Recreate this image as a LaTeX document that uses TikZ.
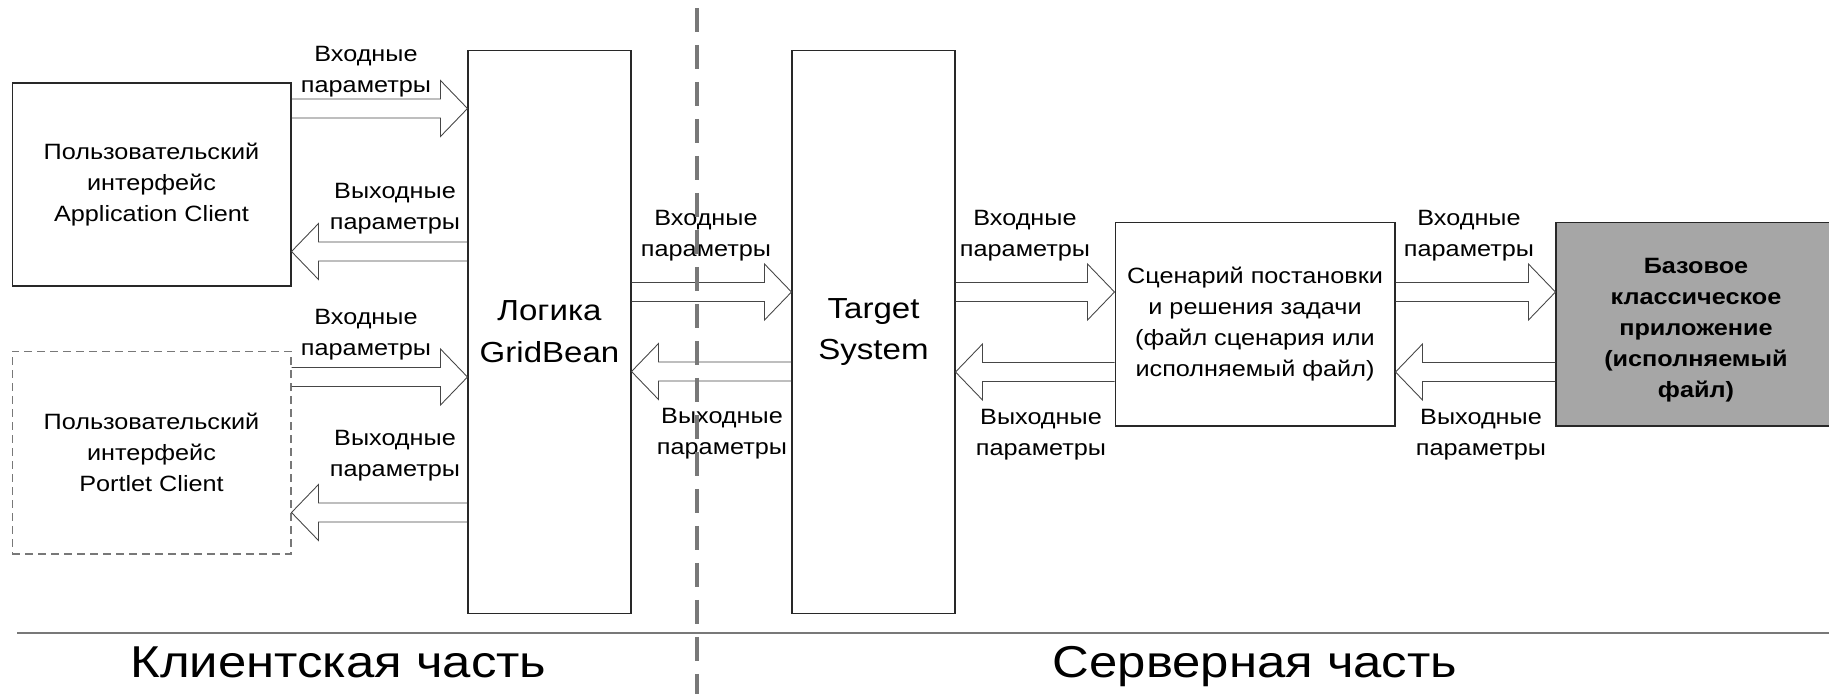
\documentclass[tikz,border=0pt]{standalone}
\usepackage{fontspec}
\setmainfont[FakeStretch=1.14]{Liberation Sans}
\usepackage{tikz}
\usetikzlibrary{positioning, calc}
\definecolor{framegray}{RGB}{40,40,40}
\definecolor{arrowgray}{RGB}{70,70,70}
\definecolor{linegray}{RGB}{120,120,120}
\definecolor{basegray}{RGB}{166,166,166}

\newcommand{\lblfont}{\fontsize{12.6}{17.6}\selectfont}
\newcommand{\corefont}{\fontsize{16.5}{23.8}\selectfont}
\newcommand{\partfont}{\fontsize{25.4}{29}\selectfont}

% hollow block arrows: tail node, tip node, centre line
\newcommand{\rightblock}[3]{%
  \draw[blockarr]
    ($(#1.east |- 0,#3)+(0,-9.5)$) -- ($(#2.west |- 0,#3)+(-27,-9.5)$)
    -- ++(0,-18.5) -- (#2.west |- 0,#3) -- ($(#2.west |- 0,#3)+(-27,28)$)
    -- ++(0,-18.5) -- ($(#1.east |- 0,#3)+(0,9.5)$);}
\newcommand{\leftblock}[3]{%
  \draw[blockarr]
    ($(#1.west |- 0,#3)+(0,-9.5)$) -- ($(#2.east |- 0,#3)+(27,-9.5)$)
    -- ++(0,-18.5) -- (#2.east |- 0,#3) -- ($(#2.east |- 0,#3)+(27,28)$)
    -- ++(0,-18.5) -- ($(#1.west |- 0,#3)+(0,9.5)$);}

\begin{document}
\begin{tikzpicture}[
    x=0.02cm, y=-0.02cm,
    client/.style  = {rectangle, draw=framegray, line width=0.6pt,
                      minimum width=5.58cm, minimum height=4.06cm,
                      font=\lblfont, align=center},
    webui/.style   = {client, draw=linegray, dash pattern=on 0.16cm off 0.1cm},
    core/.style    = {rectangle, draw=framegray, line width=0.6pt,
                      minimum width=3.26cm, minimum height=11.28cm,
                      font=\corefont, align=center},
    stage/.style   = {rectangle, draw=framegray, line width=0.6pt,
                      minimum width=5.6cm, minimum height=4.08cm,
                      font=\lblfont, align=center},
    blockarr/.style = {draw=arrowgray, line width=0.5pt},
    lbl/.style     = {inner sep=0pt, font=\lblfont, align=center},
    divider/.style = {draw=linegray, line width=1.8pt,
                      dash pattern=on 0.48cm off 0.26cm},
    rule/.style    = {draw=linegray, line width=1.1pt},
  ]
  \useasboundingbox (0,0) rectangle (1829,694);

  %% Client side
  \node[client] (appui) at (151.5,184.5) {Пользовательский\\интерфейс\\Application Client};
  \node[webui, below=1.28cm of appui] (portletui) {Пользовательский\\интерфейс\\Portlet Client};
  \node[core] (logic) at (549.5,332) {Логика\\GridBean};

  %% Server side
  \node[core, right=3.2cm of logic] (target) {Target\\System};
  \node[stage] (scenario) at (1255,324) {Сценарий постановки\\и решения задачи\\(файл сценария или\\исполняемый файл)};
  \node[stage, fill=basegray, right=3.2cm of scenario] (baseapp) {};
  \node[lbl, font=\lblfont\bfseries] (basetext) at ($(baseapp.center)+(0,6)$)
       {Базовое\\классическое\\приложение\\(исполняемый\\файл)};

  %% Parameter flows
  \rightblock{appui}{logic}{108.5}
  \leftblock{logic}{appui}{251.5}
  \rightblock{portletui}{logic}{377}
  \leftblock{logic}{portletui}{512.5}
  \rightblock{logic}{target}{292}
  \leftblock{target}{logic}{371.5}
  \rightblock{target}{scenario}{292}
  \leftblock{scenario}{target}{372}
  \rightblock{scenario}{baseapp}{292}
  \leftblock{baseapp}{scenario}{372}

  %% Flow labels
  \node[lbl] (inapp)   at (366,71.5)  {Входные\\параметры};
  \node[lbl] (outapp)  at (395,209)   {Выходные\\параметры};
  \node[lbl] (inweb)   at (366,335)   {Входные\\параметры};
  \node[lbl] (outweb)  at (395,456)   {Выходные\\параметры};
  \node[lbl] (inlogic) at (706,235.5) {Входные\\параметры};
  \node[lbl] (outtgt)  at (722,434)   {Выходные\\параметры};
  \node[lbl] (intgt)   at (1025,235.5) {Входные\\параметры};
  \node[lbl] (outscn)  at (1041,434.5) {Выходные\\параметры};
  \node[lbl] (inscn)   at (1469,236) {Входные\\параметры};
  \node[lbl] (outbase) at (1481,434.5) {Выходные\\параметры};

  %% Client / server split
  \draw[divider] (697,8) -- (697,694);
  \draw[rule] (17,633) -- (1829,633);
  \node[font=\partfont, anchor=base] (clientpart) at (338.5,677) {Клиентская часть};
  \node[font=\partfont, anchor=base] (serverpart) at (1255,677) {Серверная часть};
\end{tikzpicture}
\end{document}
